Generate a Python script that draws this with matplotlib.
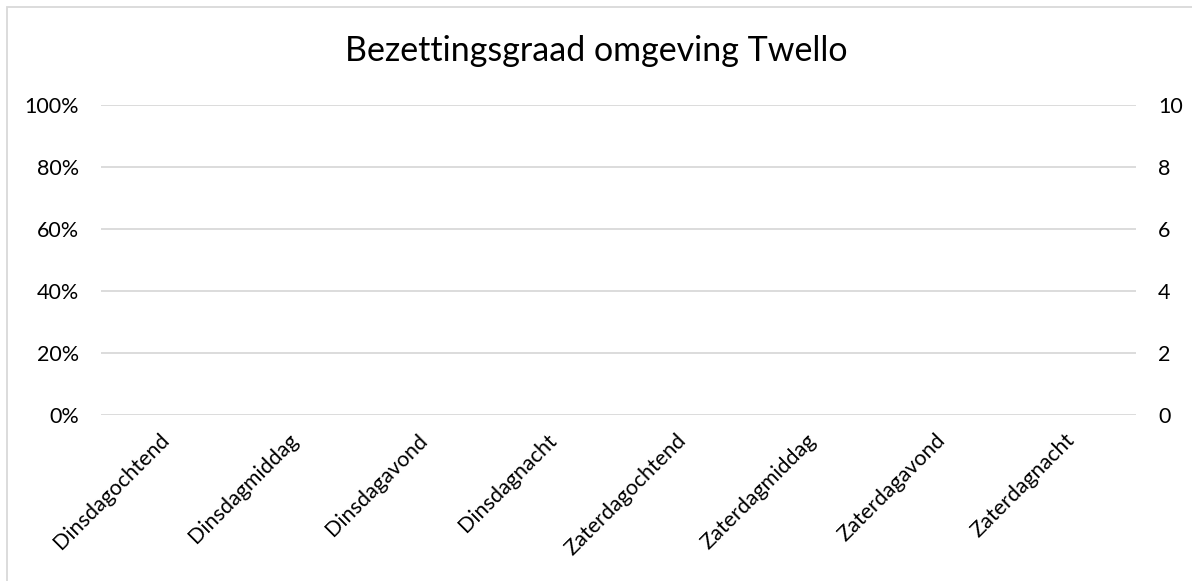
import matplotlib
matplotlib.use("Agg")
import matplotlib.pyplot as plt
from matplotlib.patches import Rectangle
import numpy as np

plt.rcParams['font.family'] = ['Lato', 'DejaVu Sans']

# categorieen en (lege) reeksen
categories = ['Dinsdagochtend', 'Dinsdagmiddag', 'Dinsdagavond', 'Dinsdagnacht',
              'Zaterdagochtend', 'Zaterdagmiddag', 'Zaterdagavond', 'Zaterdagnacht']
bezetting = [np.nan, np.nan, np.nan, np.nan, np.nan, np.nan, np.nan, np.nan]
aantal = [np.nan, np.nan, np.nan, np.nan, np.nan, np.nan, np.nan, np.nan]
left_ticks = [0, 0.2, 0.4, 0.6, 0.8, 1.0]
left_labels = ['0%', '20%', '40%', '60%', '80%', '100%']
right_ticks = [0, 2, 4, 6, 8, 10]

W, H = 1192, 581
fig = plt.figure(figsize=(W / 100, H / 100), dpi=100)
ax = fig.add_axes([101 / W, 1 - 415 / H, (1136 - 101) / W, (415 - 105) / H])
ax2 = ax.twinx()

x = np.arange(len(categories))
ax.bar(x, bezetting, width=0.6, color='#4472c4')
ax2.plot(x, aantal, color='#ed7d31', lw=2)

ax.set_xlim(-0.5, len(categories) - 0.5)
ax.set_ylim(0, 1)
ax2.set_ylim(0, 10)

ax.set_yticks(left_ticks)
ax.set_yticklabels(left_labels)
ax2.set_yticks(right_ticks)
ax.yaxis.grid(True, color='#d9d9d9', lw=1.3)
ax.set_axisbelow(True)

ax.set_xticks(x)
ax.set_xticklabels(categories, rotation=45, ha='right', va='center', rotation_mode='anchor')

for a in (ax, ax2):
    for s in a.spines.values():
        s.set_visible(False)
    a.tick_params(length=0, labelsize=15.5, colors='#000000')
ax.tick_params(axis='y', pad=16)
ax2.tick_params(axis='y', pad=16)
ax.tick_params(axis='x', pad=16)

fig.text(0.5, 1 - 51 / H, 'Bezettingsgraad omgeving Twello', ha='center', va='center',
         fontsize=24.5)

# kader van de grafiek
fig.patches.append(Rectangle((7.5 / W, -0.1), 1.2, 1.1 - 7 / H, transform=fig.transFigure,
                             fill=False, edgecolor='#d9d9d9', lw=1.3))

fig.savefig('out.png', dpi=100, facecolor='white')
